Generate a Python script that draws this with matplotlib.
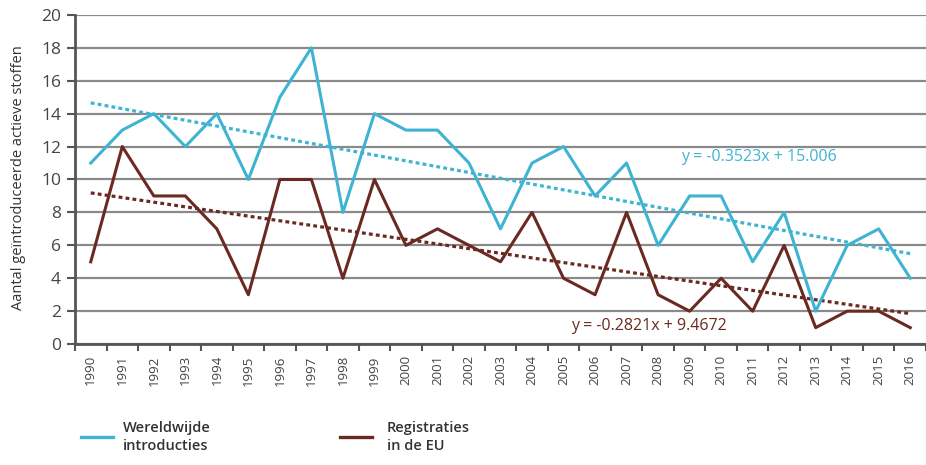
import matplotlib
matplotlib.use('Agg')
import matplotlib.pyplot as plt
import numpy as np
from matplotlib.lines import Line2D

years = [str(y) for y in range(1990, 2017)]
wereldwijd = [11, 13, 14, 12, 14, 10, 15, 18, 8, 14, 13, 13, 11, 7, 11, 12,
              9, 11, 6, 9, 9, 5, 8, 2, 6, 7, 4]
eu = [5, 12, 9, 9, 7, 3, 10, 10, 4, 10, 6, 7, 6, 5, 8, 4, 3, 8, 3, 2, 4, 2,
      6, 1, 2, 2, 1]
# trendline coefficients (slope, intercept), x = 1..27
trend_ww = (-0.3523, 15.006)
trend_eu = (-0.2821, 9.4672)
yticks = list(range(0, 21, 2))

blue = '#3fb4d2'
brown = '#6a2a22'
grid_c = '#8a8a8a'
plt.rcParams['font.family'] = ['Open Sans', 'DejaVu Sans']

fig = plt.figure(figsize=(9.26, 4.65), dpi=100)
ax = fig.add_axes([0.081, 0.260, 0.919, 0.708])

x = np.arange(len(years))
ax.plot(x, wereldwijd, color=blue, lw=2.2, zorder=3)
ax.plot(x, eu, color=brown, lw=2.2, zorder=3)

xt = x + 1
ax.plot(x, trend_ww[0] * xt + trend_ww[1], color=blue, lw=2.3,
        linestyle=(0, (1.2, 1.0)), zorder=2)
ax.plot(x, trend_eu[0] * xt + trend_eu[1], color=brown, lw=2.3,
        linestyle=(0, (1.2, 1.0)), zorder=2)

ax.text(21.2, 11.35, 'y = -0.3523x + 15.006', color=blue, fontsize=11.5,
        ha='center', va='center', zorder=2.5,
        bbox=dict(facecolor='white', edgecolor='none', pad=0.5, alpha=0.8))
ax.text(17.7, 1.1, 'y = -0.2821x + 9.4672', color=brown, fontsize=11.5,
        ha='center', va='center', zorder=2.5)

ax.set_xlim(-0.5, len(years) - 0.5)
ax.set_ylim(0, 20)
ax.set_yticks(yticks)
ax.set_yticklabels([str(v) for v in yticks], fontsize=12.5, color='#444444')
ax.set_xticks(x)
ax.set_xticklabels(years, rotation=90, fontsize=9.5, color='#444444')
ax.tick_params(axis='x', length=0, pad=8)
ax.set_xticks(np.arange(-0.5, len(years), 1), minor=True)
ax.tick_params(axis='x', which='minor', length=5, width=1.5, color='#555555')
ax.tick_params(axis='y', length=6, width=1.5, color='#555555', pad=4)

ax.grid(axis='y', color=grid_c, lw=1.6, zorder=1)
ax.set_axisbelow(True)
for s in ['top', 'right']:
    ax.spines[s].set_visible(False)
for s in ['left', 'bottom']:
    ax.spines[s].set_color('#555555')
    ax.spines[s].set_linewidth(2)

ax.set_ylabel('Aantal geïntroduceerde actieve stoffen', fontsize=10.5,
              color='#333333')
ax.yaxis.set_label_coords(-0.058, 0.505)

# legend drawn below the axes
fig.add_artist(Line2D([0.087, 0.122], [0.06, 0.06], color=blue, lw=2.4))
fig.text(0.133, 0.06, 'Wereldwijde\nintroducties', fontsize=10.5,
         fontweight='semibold', color='#333333', va='center', linespacing=1.4)
fig.add_artist(Line2D([0.367, 0.402], [0.06, 0.06], color=brown, lw=2.4))
fig.text(0.418, 0.06, 'Registraties\nin de EU', fontsize=10.5,
         fontweight='semibold', color='#333333', va='center', linespacing=1.4)

fig.savefig('out.png', dpi=100)
